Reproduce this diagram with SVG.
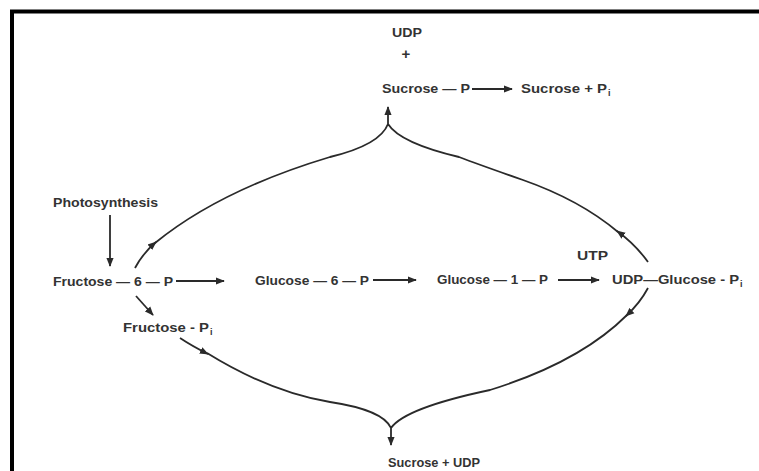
<svg xmlns="http://www.w3.org/2000/svg" width="759" height="471" viewBox="0 0 759 471">
<defs>
<marker id="ah" viewBox="0 0 10 10" refX="9" refY="5" markerWidth="9" markerHeight="9" markerUnits="userSpaceOnUse" orient="auto">
<path d="M0,1 L10,5 L0,9 Z" fill="#2a2a2a"/>
</marker>
<style>
.t{font-family:"Liberation Sans",Arial,sans-serif;font-weight:bold;font-size:13px;fill:#333}
.s{font-size:9px}
.c{fill:none;stroke:#2a2a2a;stroke-width:1.8}
.a{fill:none;stroke:#2a2a2a;stroke-width:1.8;marker-end:url(#ah)}
</style>
</defs>
<rect width="759" height="471" fill="#fff"/>
<g id="frame" fill="none" stroke="#000" stroke-width="4">
<path d="M12,471 V11.5 H759"/>
</g>
<g id="connectors">
<path class="a" d="M110,215 V266"/>
<path class="a" d="M176,281 H224"/>
<path class="a" d="M373,280 H416"/>
<path class="a" d="M558,280 H599"/>
<path class="a" d="M472,89 H512"/>
<path class="a" d="M136,296 L153,315"/>
<path class="a" d="M135,268 Q143,253 156,242"/>
<path class="c" d="M155,243 Q220,190 330,157 Q380,145 388,124"/>
<path class="a" d="M648,262 Q635,244 617,231"/>
<path class="c" d="M618,232 Q580,200 523,180 Q480,165 459,157 Q400,143 388,124"/>
<path class="a" d="M388,126 V107"/>
<path class="a" d="M648,288 Q640,303 626,316"/>
<path class="c" d="M627,315 Q580,362 490,390 Q405,408 391,428"/>
<path class="a" d="M180,338 Q192,346 208,354"/>
<path class="c" d="M207,353 Q270,392 330,402 Q383,410 391,428"/>
<path class="a" d="M391,426 V445"/>
</g>
<g id="n-udp-top"><text class="t" x="407" y="37" text-anchor="middle" textLength="30" lengthAdjust="spacingAndGlyphs">UDP</text></g>
<g id="n-plus"><text class="t" x="406" y="59" text-anchor="middle" style="font-size:15px">+</text></g>
<g id="n-sucrose-p"><text class="t" x="382" y="93" textLength="88" lengthAdjust="spacingAndGlyphs">Sucrose — P</text></g>
<g id="n-sucrose-pi"><text class="t" x="521" y="93" textLength="86" lengthAdjust="spacingAndGlyphs">Sucrose + P</text><text class="t s" x="608" y="96">i</text></g>
<g id="n-photosynthesis"><text class="t" x="53" y="207" textLength="105" lengthAdjust="spacingAndGlyphs">Photosynthesis</text></g>
<g id="n-f6p"><text class="t" x="53" y="286" textLength="120" lengthAdjust="spacingAndGlyphs">Fructose — 6 — P</text></g>
<g id="n-g6p"><text class="t" x="255" y="285" textLength="114" lengthAdjust="spacingAndGlyphs">Glucose — 6 — P</text></g>
<g id="n-g1p"><text class="t" x="437" y="284" textLength="111" lengthAdjust="spacingAndGlyphs">Glucose — 1 — P</text></g>
<g id="n-utp"><text class="t" x="577" y="260" textLength="31" lengthAdjust="spacingAndGlyphs">UTP</text></g>
<g id="n-udpg"><text class="t" x="612" y="284" textLength="127" lengthAdjust="spacingAndGlyphs">UDP—Glucose - P</text><text class="t s" x="740" y="287">i</text></g>
<g id="n-fpi"><text class="t" x="123" y="332" textLength="86" lengthAdjust="spacingAndGlyphs">Fructose - P</text><text class="t s" x="210" y="335">i</text></g>
<g id="n-sucrose-udp"><text class="t" x="388" y="467" textLength="92" lengthAdjust="spacingAndGlyphs">Sucrose + UDP</text></g>
</svg>
